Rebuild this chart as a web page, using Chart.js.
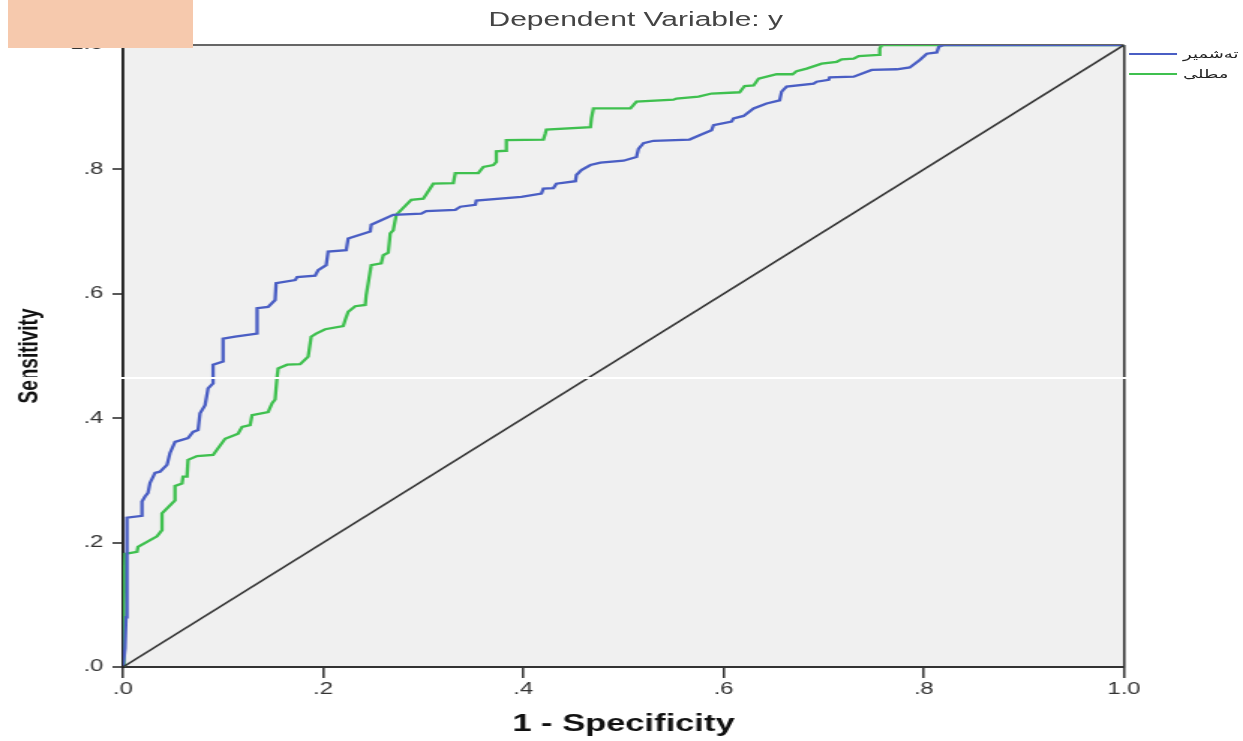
<!DOCTYPE html>
<html>
<head>
<meta charset="utf-8">
<title>ROC Curve</title>
<script src="https://cdn.jsdelivr.net/npm/chart.js@4.4.1/dist/chart.umd.min.js"></script>
<style>
  html, body { margin: 0; padding: 0; background: #fff; overflow: hidden; }
  #wrap {
    position: absolute; left: 0; top: 0;
    width: 829px; height: 741px;
    transform: scaleX(1.4994); transform-origin: 0 0;
  }
  #roc-title {
    position: absolute; left: 0; top: 8px; width: 848px;
    text-align: center; font: 20px 'Liberation Sans', Arial, sans-serif; color: #444;
  }
  #roc-chart-legend { position: absolute; left: 753px; top: 44px; }
  #roc-chart-legend ul { list-style: none; margin: 0; padding: 0; }
  #roc-chart-legend li { height: 20px; display: flex; align-items: center; }
  #roc-chart-legend span { display: inline-block; width: 32px; height: 2px; margin-right: 4px; }
  #roc-chart-legend bdi { font: 12px 'DejaVu Sans', sans-serif; color: #222; }
  .patch { position: absolute; left: 8px; top: 0; width: 185px; height: 48px; background: #f6c9ad; }
  .scanline { position: absolute; left: 0; top: 377px; width: 1130px; height: 1.5px; background: #fff; }
</style>
</head>
<body>
<div id="wrap">
  <div id="roc-title">Dependent Variable: y</div>
  <canvas id="roc-chart"></canvas>
  <div id="roc-chart-legend"></div>
</div>
<div class="patch"></div>
<div class="scanline"></div>
<script>
// values (1 - specificity, sensitivity)
const tickLabels = ['.0', '.2', '.4', '.6', '.8', '1.0'];
const seriesNames = ['تەشمیر', 'مطلی'];

const fprBlue = [0, 0.002, 0.003, 0.004, 0.019, 0.019, 0.022, 0.025, 0.027, 0.032, 0.037, 0.044, 0.047, 0.052, 0.065, 0.07, 0.075, 0.077, 0.082, 0.085, 0.09, 0.09, 0.1, 0.1, 0.112, 0.134, 0.134, 0.145, 0.152, 0.153, 0.172, 0.174, 0.192, 0.195, 0.203, 0.205, 0.223, 0.225, 0.247, 0.248, 0.27, 0.298, 0.303, 0.332, 0.337, 0.352, 0.353, 0.398, 0.418, 0.42, 0.43, 0.433, 0.452, 0.453, 0.458, 0.467, 0.477, 0.5, 0.513, 0.515, 0.52, 0.53, 0.566, 0.576, 0.588, 0.59, 0.608, 0.61, 0.62, 0.63, 0.643, 0.656, 0.658, 0.663, 0.69, 0.693, 0.705, 0.706, 0.73, 0.748, 0.773, 0.786, 0.796, 0.803, 0.813, 0.815, 0.82, 1];
const tprBlue = [0, 0.03, 0.08, 0.24, 0.243, 0.266, 0.274, 0.28, 0.296, 0.312, 0.314, 0.325, 0.344, 0.362, 0.368, 0.378, 0.381, 0.408, 0.421, 0.448, 0.456, 0.486, 0.491, 0.528, 0.531, 0.536, 0.577, 0.579, 0.59, 0.617, 0.622, 0.627, 0.629, 0.638, 0.646, 0.668, 0.67, 0.689, 0.7, 0.711, 0.727, 0.729, 0.733, 0.735, 0.74, 0.743, 0.75, 0.756, 0.761, 0.769, 0.77, 0.777, 0.781, 0.791, 0.799, 0.807, 0.811, 0.814, 0.82, 0.833, 0.842, 0.846, 0.848, 0.855, 0.863, 0.871, 0.877, 0.882, 0.886, 0.898, 0.906, 0.911, 0.925, 0.933, 0.938, 0.941, 0.944, 0.948, 0.949, 0.96, 0.961, 0.964, 0.976, 0.986, 0.988, 0.997, 1, 1];

const fprGreen = [0, 0.001, 0.002, 0.014, 0.015, 0.034, 0.039, 0.039, 0.052, 0.052, 0.059, 0.06, 0.064, 0.065, 0.074, 0.09, 0.102, 0.115, 0.119, 0.127, 0.129, 0.145, 0.149, 0.152, 0.154, 0.155, 0.164, 0.177, 0.185, 0.188, 0.193, 0.202, 0.22, 0.222, 0.225, 0.232, 0.242, 0.243, 0.248, 0.258, 0.26, 0.265, 0.267, 0.27, 0.273, 0.288, 0.3, 0.31, 0.33, 0.332, 0.355, 0.36, 0.37, 0.373, 0.373, 0.382, 0.383, 0.42, 0.422, 0.423, 0.467, 0.468, 0.47, 0.507, 0.513, 0.55, 0.553, 0.575, 0.588, 0.616, 0.621, 0.63, 0.635, 0.653, 0.669, 0.673, 0.683, 0.698, 0.713, 0.718, 0.73, 0.735, 0.755, 0.756, 0.758, 1];
const tprGreen = [0, 0.1, 0.182, 0.185, 0.193, 0.21, 0.22, 0.247, 0.268, 0.291, 0.295, 0.306, 0.306, 0.333, 0.339, 0.341, 0.367, 0.375, 0.386, 0.389, 0.405, 0.41, 0.424, 0.43, 0.467, 0.48, 0.486, 0.487, 0.499, 0.531, 0.536, 0.543, 0.548, 0.558, 0.571, 0.58, 0.582, 0.598, 0.646, 0.649, 0.662, 0.666, 0.697, 0.702, 0.727, 0.751, 0.753, 0.777, 0.778, 0.794, 0.794, 0.804, 0.807, 0.812, 0.829, 0.83, 0.847, 0.848, 0.858, 0.864, 0.868, 0.882, 0.898, 0.898, 0.909, 0.912, 0.914, 0.917, 0.922, 0.924, 0.934, 0.935, 0.946, 0.953, 0.953, 0.958, 0.962, 0.97, 0.973, 0.977, 0.978, 0.982, 0.984, 0.994, 1, 1];

const refLine = [0, 1];

function toPoints(xs, ys) {
  return xs.map(function (x, i) { return { x: x, y: ys[i] }; });
}

Chart.defaults.font.family = "'Liberation Sans', Arial, sans-serif";

const ctx = document.getElementById('roc-chart');

new Chart(ctx, {
  type: 'scatter',
  data: {
    datasets: [{
      label: 'reference',
      data: toPoints(refLine, refLine),
      showLine: true,
      borderColor: '#333333',
      borderWidth: 1.6,
      pointRadius: 0,
      inLegend: false
    },
    {
      label: seriesNames[0],
      data: toPoints(fprBlue, tprBlue),
      showLine: true,
      borderColor: '#4a5ec4',
      borderWidth: 2.3,
      pointRadius: 0,
      inLegend: true
    },
    {
      label: seriesNames[1],
      data: toPoints(fprGreen, tprGreen),
      showLine: true,
      borderColor: '#3fc04f',
      borderWidth: 2.3,
      pointRadius: 0,
      inLegend: true
    }]
  },
  options: {
    responsive: true,
    maintainAspectRatio: false,
    animation: false,
    layout: {
      padding: { left: 0, right: 79.4, top: 45, bottom: 0 }
    },
    elements: {
      line: { tension: 0 }
    },
    scales: {
      x: {
        type: 'linear',
        min: 0,
        max: 1,
        afterFit: function (scale) { scale.height = 74; },
        ticks: {
          stepSize: 0.2,
          maxRotation: 0,
          padding: 2,
          color: '#333',
          font: { size: 16 },
          callback: function (value, index) { return tickLabels[index]; }
        },
        grid: {
          color: function (c) { return c.tick && c.tick.value === 1 ? '#333' : 'rgba(0,0,0,0)'; },
          lineWidth: 1.6,
          tickColor: '#222',
          tickWidth: 1.4,
          tickLength: 11
        },
        border: { color: '#333', width: 2 },
        title: {
          display: true,
          text: '1 - Specificity',
          color: '#111',
          font: { size: 23, weight: 'bold' },
          padding: { top: 0, bottom: 3 }
        }
      },
      y: {
        type: 'linear',
        min: 0,
        max: 1,
        afterFit: function (scale) { scale.width = 82; },
        ticks: {
          stepSize: 0.2,
          padding: 6,
          color: '#333',
          font: { size: 16 },
          callback: function (value, index) { return tickLabels[index]; }
        },
        grid: {
          color: function (c) { return c.tick && c.tick.value === 1 ? '#666' : 'rgba(0,0,0,0)'; },
          lineWidth: 2,
          tickColor: '#222',
          tickWidth: 1.5,
          tickLength: 7
        },
        border: { color: '#222', width: 1.9 },
        title: {
          display: true,
          text: 'Sensitivity',
          color: '#111',
          font: { size: 19, weight: 'bold' },
          padding: { top: 8, bottom: 0 }
        }
      }
    },
    plugins: {
      legend: { display: false },
      tooltip: { enabled: false }
    }
  },
  plugins: [{
    id: 'plotBackground',
    beforeDraw: function (chart) {
      const a = chart.chartArea;
      const c = chart.ctx;
      c.save();
      c.fillStyle = '#f0f0f0';
      c.fillRect(a.left, a.top, a.right - a.left, a.bottom - a.top);
      c.restore();
    }
  },
  {
    id: 'htmlLegend',
    afterInit: function (chart) {
      const legendId = chart.canvas.id + '-legend';
      const ul = document.createElement('ul');
      chart.data.datasets.forEach(function (ds) {
        if (!ds.inLegend) return;
        ul.innerHTML += `
          <li>
            <span style="background-color: ${ds.borderColor}"></span>
            <bdi dir="rtl">${ds.label}</bdi>
          </li>
        `;
      });
      document.getElementById(legendId).appendChild(ul);
    }
  }]
});
</script>
</body>
</html>
